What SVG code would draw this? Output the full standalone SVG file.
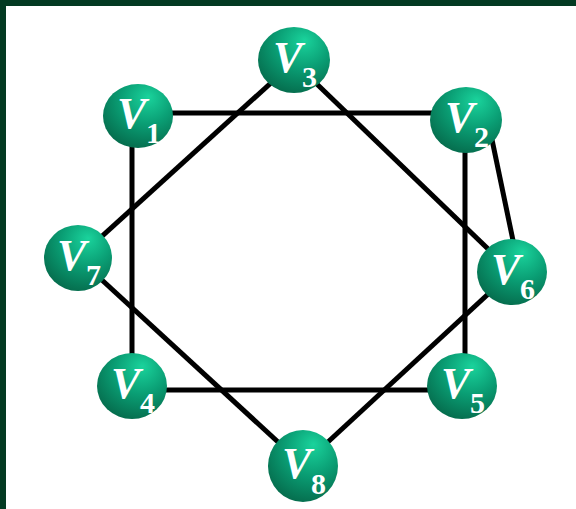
<svg xmlns="http://www.w3.org/2000/svg" width="576" height="509" viewBox="0 0 576 509">
<style>
.edge{stroke:#000;stroke-width:5;fill:none}
.node{fill:url(#g)}
.v{font-family:"Liberation Serif",serif;font-style:italic;font-weight:bold;font-size:44px;fill:#fff}
.n{font-family:"Liberation Serif",serif;font-weight:bold;font-size:30px;fill:#fff}
</style>
<defs>
<radialGradient id="g" cx="0.6" cy="0.3" r="0.75" fx="0.65" fy="0.2">
<stop offset="0" stop-color="#1ad39c"/>
<stop offset="0.5" stop-color="#0a9e74"/>
<stop offset="1" stop-color="#056a4b"/>
</radialGradient>
</defs>
<rect width="576" height="509" fill="#fff"/>
<rect width="576" height="6" fill="#033a22"/>
<rect width="6" height="509" fill="#033a22"/>
<g id="edges">
<line class="edge" x1="137" y1="113" x2="466" y2="113"/>
<line class="edge" x1="132" y1="120" x2="132" y2="386"/>
<line class="edge" x1="465" y1="120" x2="465" y2="386"/>
<line class="edge" x1="132" y1="390" x2="463" y2="390"/>
<line class="edge" x1="294" y1="62" x2="78" y2="258"/>
<line class="edge" x1="294" y1="62" x2="512" y2="272"/>
<line class="edge" x1="78" y1="258" x2="303" y2="465"/>
<line class="edge" x1="512" y1="272" x2="303" y2="465"/>
<line class="edge" x1="490" y1="130" x2="515" y2="250"/>
</g>
<g id="V1"><ellipse class="node" cx="138" cy="116" rx="35" ry="32"/><text class="v" x="117" y="128">V</text><text class="n" x="146" y="143">1</text></g>
<g id="V2"><ellipse class="node" cx="466" cy="120" rx="36" ry="33"/><text class="v" x="445" y="132">V</text><text class="n" x="474" y="147">2</text></g>
<g id="V3"><ellipse class="node" cx="294" cy="60" rx="36" ry="33"/><text class="v" x="273" y="72">V</text><text class="n" x="302" y="87">3</text></g>
<g id="V4"><ellipse class="node" cx="132" cy="386" rx="35" ry="33"/><text class="v" x="111" y="398">V</text><text class="n" x="140" y="413">4</text></g>
<g id="V5"><ellipse class="node" cx="462" cy="386" rx="35" ry="33"/><text class="v" x="441" y="398">V</text><text class="n" x="470" y="413">5</text></g>
<g id="V6"><ellipse class="node" cx="512" cy="272" rx="35" ry="33"/><text class="v" x="491" y="284">V</text><text class="n" x="520" y="299">6</text></g>
<g id="V7"><ellipse class="node" cx="78" cy="258" rx="34" ry="33"/><text class="v" x="57" y="270">V</text><text class="n" x="86" y="285">7</text></g>
<g id="V8"><ellipse class="node" cx="303" cy="466" rx="35" ry="36"/><text class="v" x="282" y="478">V</text><text class="n" x="311" y="494">8</text></g>
</svg>
